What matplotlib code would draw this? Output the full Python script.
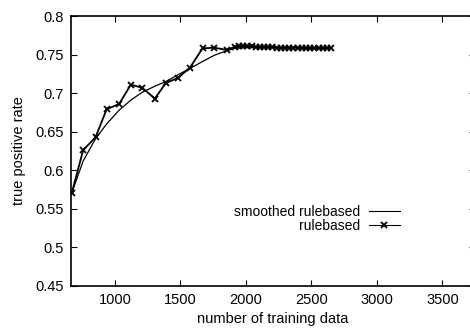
import matplotlib
matplotlib.use("Agg")
import matplotlib.pyplot as plt

plt.rcParams['font.family'] = ['Liberation Sans', 'DejaVu Sans']

# rulebased (raw) curve
rule_x = [670, 758, 853, 937, 1033, 1122, 1208, 1305, 1389, 1483, 1573, 1669, 1758, 1853,
          1915, 1947, 1979, 2011, 2043, 2075, 2107, 2139, 2171, 2203, 2235, 2267,
          2299, 2331, 2363, 2395, 2427, 2459, 2491, 2523, 2555, 2587, 2619, 2651]
rule_y = [0.570, 0.626, 0.643, 0.679, 0.686, 0.711, 0.707, 0.693, 0.713, 0.720, 0.733,
          0.758, 0.759, 0.756,
          0.760, 0.761, 0.761, 0.761, 0.761, 0.760, 0.760, 0.760, 0.760, 0.760, 0.759, 0.759,
          0.759, 0.759, 0.759, 0.759, 0.758, 0.758, 0.758, 0.758, 0.758, 0.758, 0.758, 0.759]

# smoothed curve
smooth_x = [670, 758, 853, 937, 1033, 1122, 1208, 1305, 1389, 1483, 1573, 1669, 1758, 1853,
            1915, 2000, 2100, 2200, 2300, 2400, 2500, 2651]
smooth_y = [0.570, 0.612, 0.641, 0.660, 0.678, 0.691, 0.701, 0.709, 0.715, 0.724, 0.732,
            0.741, 0.749, 0.755, 0.758, 0.759, 0.759, 0.759, 0.759, 0.759, 0.759, 0.759]

yticks = [0.45, 0.5, 0.55, 0.6, 0.65, 0.7, 0.75, 0.8]
ylabels = ['0.45', '0.5', '0.55', '0.6', '0.65', '0.7', '0.75', '0.8']
xticks = [1000, 1500, 2000, 2500, 3000, 3500]

fig = plt.figure(figsize=(4.7, 3.34), dpi=100)
ax = fig.add_axes([0.151, 0.144, 0.86, 0.808])

ax.plot(smooth_x, smooth_y, color='black', lw=0.9, label='smoothed rulebased')
ax.plot(rule_x, rule_y, color='black', lw=1.3, marker='x', ms=5, mew=1.3, label='rulebased')

ax.set_xlim(665, 3750)
ax.set_ylim(0.45, 0.8)
ax.set_xticks(xticks)
ax.set_yticks(yticks)
ax.set_yticklabels(ylabels)
ax.tick_params(direction='in', top=True, right=True, length=4, labelsize=10.5, width=0.8, pad=5)
for s in ax.spines.values():
    s.set_linewidth(1.2)

ax.set_xlabel('number of training data', fontsize=10.5, labelpad=4)
ax.set_ylabel('true positive rate', fontsize=10.5, labelpad=7)

leg = ax.legend(loc='upper right', bbox_to_anchor=(0.83, 0.325), frameon=False, markerfirst=False,
                fontsize=10, handlelength=2.2, labelspacing=0.0, handletextpad=0.6, borderpad=0)
for h in leg.legend_handles:
    h.set_linewidth(0.8)

fig.savefig('out.png', dpi=100)
